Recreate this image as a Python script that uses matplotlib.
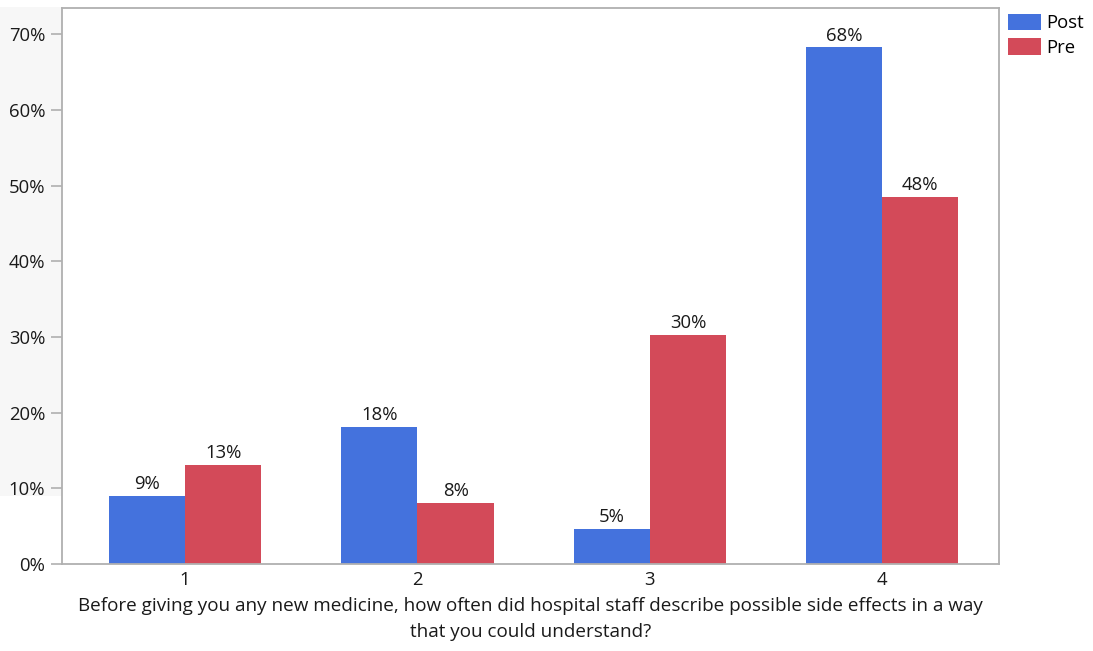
import matplotlib
matplotlib.use("Agg")
import matplotlib.pyplot as plt
import numpy as np
from matplotlib.patches import Rectangle, Patch

categories = ["1", "2", "3", "4"]
post = [9.0, 18.1, 4.6, 68.3]
pre = [13.1, 8.1, 30.3, 48.5]
post_labels = ["9%", "18%", "5%", "68%"]
pre_labels = ["13%", "8%", "30%", "48%"]
yticks = [0, 10, 20, 30, 40, 50, 60, 70]
xlabel = ("Before giving you any new medicine, how often did hospital staff describe possible side effects in a way\n"
          "that you could understand?")

BLUE = "#4472dd"
RED = "#d34a59"
GRAY = "#b0b0b0"
FS = 13.3

plt.rcParams['font.family'] = ['Open Sans', 'DejaVu Sans']

fig = plt.figure(figsize=(10.93, 6.51), dpi=100)
fig.patch.set_facecolor("white")
# faint panel behind y tick labels
bg = Rectangle((0, 1 - 496/651), 62/1093, (496-7)/651, transform=fig.transFigure,
               facecolor="#f7f7f7", edgecolor="none", zorder=-5)
fig.patches.append(bg)

ax = fig.add_axes([62/1093, 87/651, 937/1093, 556/651])
ax.set_zorder(1)
ax.set_facecolor("white")
x = np.arange(len(categories))
w = 0.328
b1 = ax.bar(x - w/2, post, w, color=BLUE, label="Post", zorder=2)
b2 = ax.bar(x + w/2, pre, w, color=RED, label="Pre", zorder=2)
for rect, lab in zip(b1, post_labels):
    ax.annotate(lab, (rect.get_x() + rect.get_width()/2, rect.get_height()), xytext=(0, 2),
                textcoords="offset points", ha="center", va="bottom", fontsize=FS, color="#1a1a1a")
for rect, lab in zip(b2, pre_labels):
    ax.annotate(lab, (rect.get_x() + rect.get_width()/2, rect.get_height()), xytext=(0, 2),
                textcoords="offset points", ha="center", va="bottom", fontsize=FS, color="#1a1a1a")

ax.set_xlim(-0.53, 3.503)
ax.set_ylim(0, 73.5)
ax.set_yticks(yticks)
ax.set_yticklabels([f"{t}%" for t in yticks])
ax.set_xticks(x)
ax.set_xticklabels(categories)
ax.tick_params(axis="y", length=8, width=1.2, color=GRAY, labelsize=FS, labelcolor="#1a1a1a", pad=4)
ax.tick_params(axis="x", length=0, labelsize=FS, labelcolor="#1a1a1a", pad=5)
for s in ax.spines.values():
    s.set_color(GRAY)
    s.set_linewidth(1.3)
ax.set_xlabel(xlabel, fontsize=FS + 0.3, color="#1a1a1a", labelpad=6, linespacing=1.55)

handles = [Patch(facecolor=BLUE, label="Post"), Patch(facecolor=RED, label="Pre")]
fig.legend(handles=handles, loc="upper left", bbox_to_anchor=(1006/1093, 1 - 12/651),
           frameon=False, fontsize=FS, handlelength=1.8, handleheight=1.0,
           handletextpad=0.3, labelspacing=0.3, borderaxespad=0, borderpad=0.1)

fig.savefig("out.png", dpi=100, facecolor="white")
